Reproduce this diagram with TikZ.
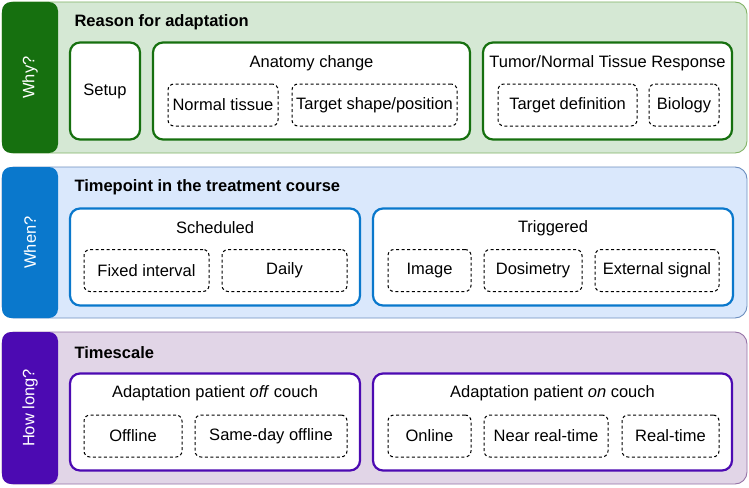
\documentclass[tikz,border=0pt]{standalone}
\usepackage{fontspec}
\setmainfont{Liberation Sans}
\usepackage{xcolor}
\usepackage{tikz}
\usetikzlibrary{positioning}

\definecolor{whybg}{HTML}{D5E8D4}
\definecolor{whyline}{HTML}{82B366}
\definecolor{whytab}{HTML}{16700F}
\definecolor{whenbg}{HTML}{DAE8FC}
\definecolor{whenline}{HTML}{6C8EBF}
\definecolor{whentab}{HTML}{0A78CC}
\definecolor{longbg}{HTML}{E1D5E7}
\definecolor{longline}{HTML}{9673A6}
\definecolor{longtab}{HTML}{4C0AB2}

\tikzset{
	panel/.style={draw, line width=0.9pt, rounded corners=12pt, inner sep=0pt},
	tabbox/.style={rounded corners=9pt, inner sep=0pt, minimum width=56pt, minimum height=151pt},
	tablabel/.style={rotate=90, text=white, font=\fontsize{16.5}{19}\selectfont},
	headline/.style={anchor=west, font=\fontsize{16.5}{19}\selectfont\bfseries},
	groupbox/.style={draw, fill=white, line width=2.2pt, rounded corners=10pt, inner sep=0pt, minimum height=97pt},
	grouptitle/.style={font=\fontsize{16.5}{19}\selectfont},
	itembox/.style={draw, dash pattern=on 3pt off 2.5pt, line width=1pt, rounded corners=6pt, minimum height=42pt, inner sep=0pt, font=\fontsize{16.5}{19}\selectfont},
}

\begin{document}
\begin{tikzpicture}[x=1pt,y=-1pt]
	\useasboundingbox (0,0) rectangle (749,487);

	% why?
	\node[panel, draw=whyline, fill=whybg, minimum width=745pt, minimum height=151pt] (whypanel) at (374.5,77.5) {};
	\node[tabbox, fill=whytab] (whytab) at (30,77.5) {};
	\node[tablabel] (whylabel) at (whytab.center) {Why?};
	\node[headline] (whyhead) at (71,22.5) {Reason for adaptation};
	\node[groupbox, draw=whytab, minimum width=70pt] (setup) at (105,91) {};
	\node[grouptitle] (setuptext) at (setup.center) {Setup};
	\node[groupbox, draw=whytab, minimum width=317pt] (anatomy) at (311.5,91) {};
	\node[grouptitle] (anatomytext) at (311.5,63) {Anatomy change};
	\node[itembox, minimum width=110pt] (normal) at (223,105) {Normal tissue};
	\node[itembox, minimum width=165pt] (target) at (374.5,105) {Target shape/position};
	\node[groupbox, draw=whytab, minimum width=249pt] (response) at (607.5,91) {};
	\node[grouptitle] (responsetext) at (607.5,63) {Tumor/Normal Tissue Response};
	\node[itembox, minimum width=139pt] (targetdef) at (567.5,105) {Target definition};
	\node[itembox, minimum width=70pt] (biology) at (684,105) {Biology};

	% when?
	\node[panel, draw=whenline, fill=whenbg, minimum width=745pt, minimum height=151pt] (whenpanel) at (374.5,242.5) {};
	\node[tabbox, fill=whentab] (whentab) at (30,242.5) {};
	\node[tablabel] (whenlabel) at (whentab.center) {When?};
	\node[headline] (whenhead) at (71,187) {Timepoint in the treatment course};
	\node[groupbox, draw=whentab, minimum width=290pt] (scheduled) at (215,257) {};
	\node[grouptitle] (scheduledtext) at (215,228) {Scheduled};
	\node[itembox, minimum width=125pt] (fixed) at (146.5,270.5) {Fixed interval};
	\node[itembox, minimum width=125pt] (daily) at (284.5,270.5) {Daily};
	\node[groupbox, draw=whentab, minimum width=360pt] (triggered) at (553,257) {};
	\node[grouptitle] (triggeredtext) at (553,228) {Triggered};
	\node[itembox, minimum width=83pt] (image) at (429.5,270.5) {Image};
	\node[itembox, minimum width=98pt] (dosimetry) at (533,270.5) {Dosimetry};
	\node[itembox, minimum width=124pt] (external) at (657,270.5) {External signal};

	% how long?
	\node[panel, draw=longline, fill=longbg, minimum width=745pt, minimum height=152pt] (longpanel) at (374.5,408) {};
	\node[tabbox, fill=longtab, minimum height=152pt] (longtab) at (30,408) {};
	\node[tablabel] (longlabel) at (longtab.center) {How long?};
	\node[headline] (longhead) at (71,353) {Timescale};
	\node[groupbox, draw=longtab, minimum width=290pt] (offcouch) at (215,422) {};
	\node[grouptitle] (offcouchtext) at (215,393) {Adaptation patient \textit{off} couch};
	\node[itembox, minimum width=98pt] (offline) at (133,436) {Offline};
	\node[itembox, minimum width=152pt] (sameday) at (271,436) {Same-day offline};
	\node[groupbox, draw=longtab, minimum width=359pt] (oncouch) at (552.5,422) {};
	\node[grouptitle] (oncouchtext) at (552.5,393) {Adaptation patient \textit{on} couch};
	\node[itembox, minimum width=83pt] (online) at (429.5,436) {Online};
	\node[itembox, minimum width=124pt] (nearreal) at (546,436) {Near real-time};
	\node[itembox, minimum width=97pt] (realtime) at (670.5,436) {Real-time};
\end{tikzpicture}
\end{document}
